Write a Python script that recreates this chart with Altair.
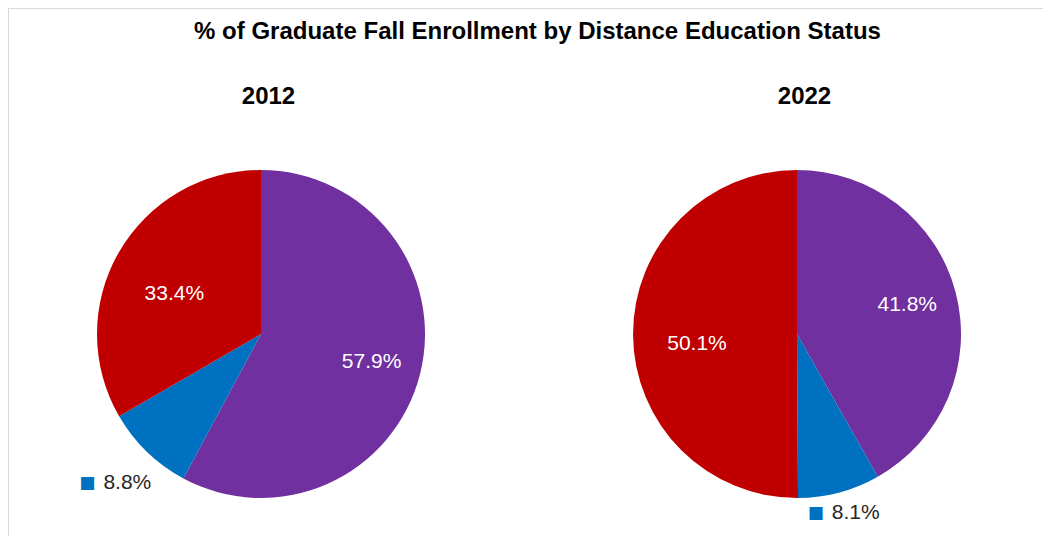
import math
import pandas as pd
import altair as alt

# ---- data ----
years = ["2012", "2022"]
categories = [
    "Not Enrolled in Any Distance Education",
    "Enrolled in Some Distance Education",
    "Enrolled Exclusively in Distance Education",
]
pct_2012 = [57.9, 8.8, 33.4]
pct_2022 = [41.8, 8.1, 50.1]
title_text = "% of Graduate Fall Enrollment by Distance Education Status"

# ---- styles ----
colors = ["#7030A0", "#0070C0", "#C00000"]
FONT = "Liberation Sans"

rows = []
for yr, vals in zip(years, [pct_2012, pct_2022]):
    for i, (c, v) in enumerate(zip(categories, vals)):
        rows.append({"year": yr, "category": c, "order": i, "value": v})
df = pd.DataFrame(rows)

base = (
    alt.Chart(df)
    .transform_joinaggregate(total="sum(value)", groupby=["year"])
    .transform_window(
        cum="sum(value)", groupby=["year"],
        sort=[alt.SortField("order")], frame=[None, 0]
    )
    .transform_calculate(
        t0="(datum.cum - datum.value) / datum.total",
        t1="datum.cum / datum.total",
        tm="(datum.cum - datum.value / 2) / datum.total",
        label="format(datum.value, '.1f') + '%'",
    )
)

x_enc = alt.X(
    "year:N",
    scale=alt.Scale(type="point", domain=years, range=[253, 789], padding=0),
    axis=None,
)
cy = alt.value(326)
theta_scale = alt.Scale(domain=[0, 1], range=[0, 2 * math.pi])
color_enc = alt.Color(
    "category:N", scale=alt.Scale(domain=categories, range=colors), legend=None
)

pies = base.mark_arc(outerRadius=164).encode(
    x=x_enc, y=cy,
    theta=alt.Theta("t0:Q", scale=theta_scale),
    theta2="t1:Q",
    color=color_enc,
)


def inside(cat_index, r, dy):
    return base.transform_filter(
        f"datum.order == {cat_index}"
    ).mark_text(
        radius=r, dy=dy, fontSize=21, font=FONT, color="white",
        align="center", baseline="middle",
    ).encode(
        x=x_enc, y=cy,
        theta=alt.Theta("tm:Q", scale=theta_scale),
        text="label:N",
    )


def outside(year, r):
    b = base.transform_filter(f"datum.order == 1 && datum.year == '{year}'")
    sq = b.mark_text(
        radius=r, fontSize=17, font="DejaVu Sans", dx=-29,
        align="center", baseline="middle",
    ).encode(
        x=x_enc, y=cy,
        theta=alt.Theta("tm:Q", scale=theta_scale),
        text=alt.value("\u25A0"),
        color=color_enc,
    )
    num = b.mark_text(
        radius=r, fontSize=21, font=FONT, dx=11, color="#262626",
        align="center", baseline="middle",
    ).encode(
        x=x_enc, y=cy,
        theta=alt.Theta("tm:Q", scale=theta_scale),
        text="label:N",
    )
    return [sq, num]


year_labels = alt.Chart(pd.DataFrame({"year": years})).mark_text(
    fontSize=24, fontWeight="bold", font=FONT, color="black",
    dx=7.5, align="center", baseline="alphabetic",
).encode(x=x_enc, y=alt.value(96), text="year:N")

title = alt.Chart(pd.DataFrame({"t": [title_text]})).mark_text(
    fontSize=24, fontWeight="bold", font=FONT, color="black",
    align="center", baseline="alphabetic",
).encode(x=alt.value(529.5), y=alt.value(31), text="t:N")

one = pd.DataFrame({"a": [0]})
border_left = alt.Chart(one).mark_rule(color="#d9d9d9", strokeWidth=1).encode(
    x=alt.value(0.5), y=alt.value(0), y2=alt.value(528)
)
border_top = alt.Chart(one).mark_rule(color="#d9d9d9", strokeWidth=1).encode(
    x=alt.value(0), x2=alt.value(1035), y=alt.value(0.5)
)

chart = alt.layer(
    border_left, border_top, pies,
    inside(0, 114, 0), inside(2, 100, 10),
    *outside("2012", 208), *outside("2022", 185),
    year_labels, title,
).properties(
    width=1035, height=528,
    autosize=alt.AutoSizeParams(type="none"),
    padding=0,
).configure_view(stroke=None)

chart.save("out.html", embed_options={"renderer": "svg", "actions": False})
